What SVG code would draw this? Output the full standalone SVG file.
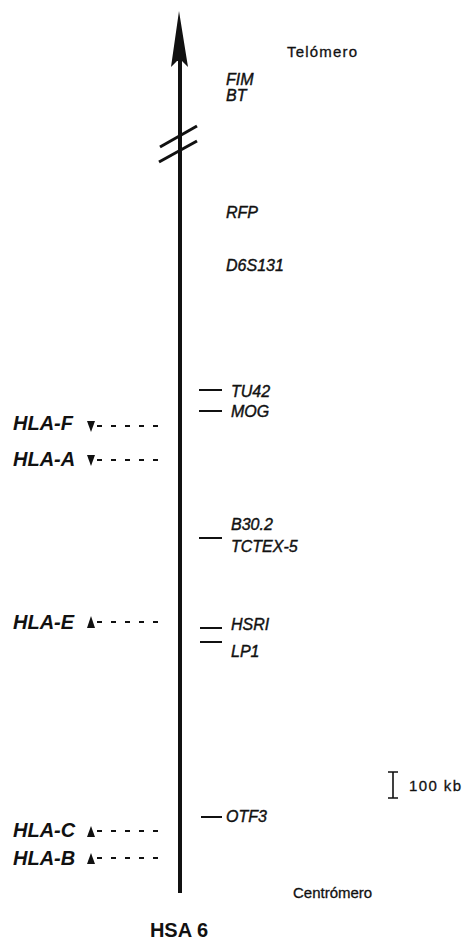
<svg xmlns="http://www.w3.org/2000/svg" width="464" height="945" viewBox="0 0 464 945">
<style>
.lbl{font-family:"Liberation Sans",Arial,sans-serif;font-style:italic;font-size:16px;fill:#111;stroke:#111;stroke-width:0.4}
.hla{font-family:"Liberation Sans",Arial,sans-serif;font-style:italic;font-weight:bold;font-size:20px;fill:#111}
.plain{font-family:"Liberation Sans",Arial,sans-serif;font-size:15px;fill:#111;stroke:#111;stroke-width:0.3}
.tick{stroke:#111;stroke-width:2;fill:none}
.dash{stroke:#111;stroke-width:2.2;stroke-dasharray:5 9;fill:none}
.tri{fill:#111}
</style>
<rect width="464" height="945" fill="#fff"/>
<g id="connectors">
  <line x1="180" y1="60" x2="180" y2="893" stroke="#111" stroke-width="4"/>
  <path d="M179,11 L188,67 L182,61 L177,61 L171,67 Z" fill="#111"/>
  <line x1="160" y1="147" x2="197" y2="126" stroke="#111" stroke-width="3"/>
  <line x1="159" y1="162" x2="197" y2="141" stroke="#111" stroke-width="3"/>
  <line class="tick" x1="199" y1="390" x2="222" y2="390"/>
  <line class="tick" x1="199" y1="411" x2="222" y2="411"/>
  <line class="tick" x1="199" y1="538" x2="222" y2="538"/>
  <line class="tick" x1="200" y1="628" x2="222" y2="628"/>
  <line class="tick" x1="200" y1="642" x2="222" y2="642"/>
  <line class="tick" x1="201" y1="817" x2="222" y2="817"/>
  <line class="dash" x1="97" y1="426" x2="162" y2="426"/>
  <line class="dash" x1="97" y1="460" x2="162" y2="460"/>
  <line class="dash" x1="97" y1="622" x2="162" y2="622"/>
  <line class="dash" x1="97" y1="831" x2="162" y2="831"/>
  <line class="dash" x1="97" y1="858" x2="162" y2="858"/>
</g>
<g id="telomero"><text class="plain" x="287" y="57" font-size="16" textLength="70">Telómero</text></g>
<g id="FIM"><text class="lbl" x="226" y="85" font-size="15">FIM</text></g>
<g id="BT"><text class="lbl" x="226" y="101" font-size="15">BT</text></g>
<g id="RFP"><text class="lbl" x="226" y="218">RFP</text></g>
<g id="D6S131"><text class="lbl" x="226" y="271">D6S131</text></g>
<g id="TU42"><text class="lbl" x="231" y="397">TU42</text></g>
<g id="MOG"><text class="lbl" x="231" y="417">MOG</text></g>
<g id="B30.2"><text class="lbl" x="231" y="530">B30.2</text></g>
<g id="TCTEX-5"><text class="lbl" x="231" y="552">TCTEX-5</text></g>
<g id="HSRI"><text class="lbl" x="231" y="630">HSRI</text></g>
<g id="LP1"><text class="lbl" x="231" y="657">LP1</text></g>
<g id="OTF3"><text class="lbl" x="226" y="822">OTF3</text></g>
<g id="HLA-F"><text class="hla" x="13" y="430">HLA-F</text><path class="tri" d="M87,421 L95,421 L91,432 Z"/></g>
<g id="HLA-A"><text class="hla" x="13" y="466">HLA-A</text><path class="tri" d="M87,455 L95,455 L91,466 Z"/></g>
<g id="HLA-E"><text class="hla" x="13" y="629">HLA-E</text><path class="tri" d="M87,628 L95,628 L91,616 Z"/></g>
<g id="HLA-C"><text class="hla" x="13" y="837">HLA-C</text><path class="tri" d="M87,837 L95,837 L91,826 Z"/></g>
<g id="HLA-B"><text class="hla" x="13" y="865">HLA-B</text><path class="tri" d="M87,864 L95,864 L91,853 Z"/></g>
<g id="scale">
  <path d="M388,772 L398,772 M393,772 L393,798 M388,798 L398,798" stroke="#111" stroke-width="1.6" fill="none"/>
  <text class="plain" x="409" y="791" font-size="16" textLength="52">100 kb</text>
</g>
<g id="centromero"><text class="plain" x="293" y="898">Centrómero</text></g>
<g id="HSA6"><text x="179" y="937" text-anchor="middle" font-family="Liberation Sans,Arial,sans-serif" font-weight="bold" font-size="20" fill="#111">HSA 6</text></g>
</svg>
